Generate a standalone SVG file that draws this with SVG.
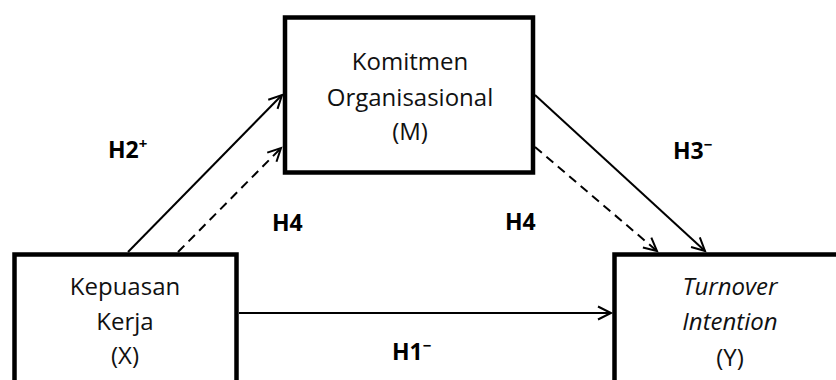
<svg xmlns="http://www.w3.org/2000/svg" width="836" height="380" viewBox="0 0 836 380">
<style>
.box{fill:#fff;stroke:#000;stroke-width:4.5}
.t{font-family:"Open Sans","Noto Sans",sans-serif;font-size:24px;fill:#111;text-anchor:middle}
.i{font-style:italic}
.h{font-family:"Open Sans","Noto Sans",sans-serif;font-size:23px;font-weight:bold;fill:#000}
.sup{font-size:15px}
.ln{stroke:#000;stroke-width:2;fill:none}
.d{stroke-dasharray:9,6}
</style>
<defs>
<marker id="ah" markerUnits="userSpaceOnUse" markerWidth="18" markerHeight="18" viewBox="-16 -9 18 18" refX="0" refY="0" orient="auto" overflow="visible">
<path d="M-13,-6.5 L0,0 L-13,6.5" fill="none" stroke="#000" stroke-width="2"/>
</marker>
</defs>
<g id="connectors">
<line class="ln" x1="128" y1="252" x2="282" y2="95" marker-end="url(#ah)"/>
<line class="ln d" x1="178" y1="252" x2="281" y2="148" marker-end="url(#ah)"/>
<line class="ln" x1="535" y1="95" x2="705" y2="251" marker-end="url(#ah)"/>
<line class="ln d" x1="535" y1="147" x2="657" y2="251" marker-end="url(#ah)"/>
<line class="ln" x1="239" y1="313" x2="611" y2="313" marker-end="url(#ah)"/>
</g>
<g id="node-M">
<rect class="box" x="285" y="17.5" width="248" height="155"/>
<text class="t" x="410" y="70">Komitmen</text>
<text class="t" x="410" y="106">Organisasional</text>
<text class="t" x="410" y="140">(M)</text>
</g>
<g id="node-X">
<rect class="box" x="14.5" y="254.5" width="222" height="140"/>
<text class="t" x="125" y="295">Kepuasan</text>
<text class="t" x="125" y="330">Kerja</text>
<text class="t" x="125" y="364">(X)</text>
</g>
<g id="node-Y">
<rect class="box" x="614.5" y="254.5" width="240" height="140"/>
<text class="t i" x="730" y="295">Turnover</text>
<text class="t i" x="730" y="330">Intention</text>
<text class="t" x="730" y="366">(Y)</text>
</g>
<g id="labels">
<text class="h" x="108" y="158">H2<tspan class="sup" dy="-9">+</tspan></text>
<text class="h" x="673" y="159">H3<tspan class="sup" dy="-9">−</tspan></text>
<text class="h" x="272" y="231">H4</text>
<text class="h" x="505" y="230">H4</text>
<text class="h" x="392" y="360">H1<tspan class="sup" dy="-9">−</tspan></text>
</g>
</svg>
